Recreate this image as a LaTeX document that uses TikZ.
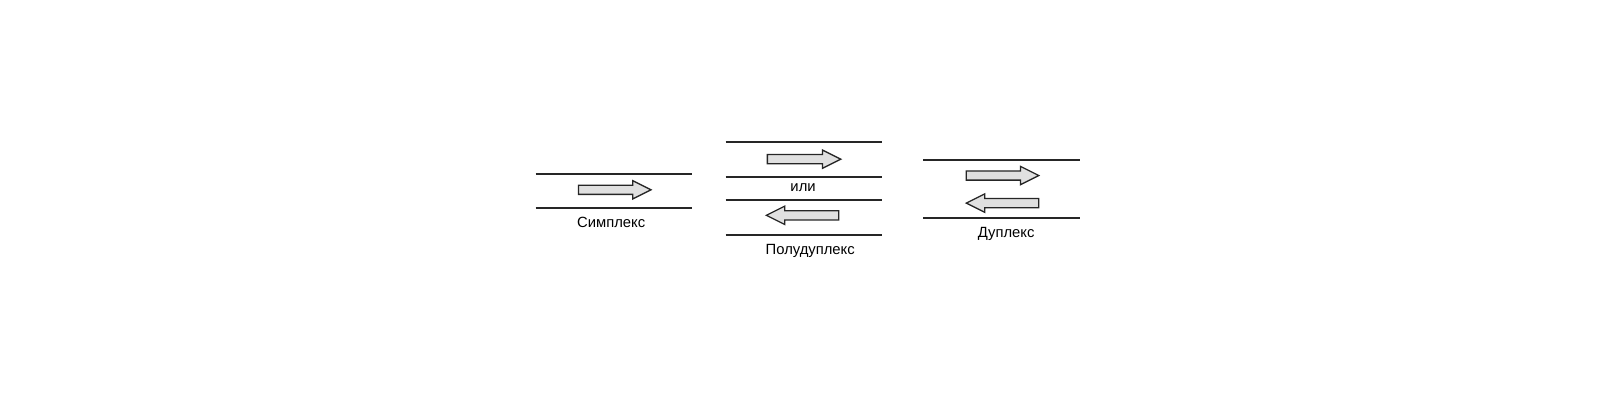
\documentclass[tikz,border=0pt]{standalone}
\usepackage{fontspec}
\setmainfont{Liberation Sans}
\newcommand\rarr[4]{% name, tail x, tip x, y
 \draw[arr] (#2,#4-4.5) -- (#3-18,#4-4.5) -- (#3-18,#4-9) -- (#3,#4) -- (#3-18,#4+9) -- (#3-18,#4+4.5) -- (#2,#4+4.5) -- cycle;
 \coordinate (#1) at (#2,#4);}
\newcommand\larr[4]{% name, tail x, tip x, y
 \draw[arr] (#2,#4-4.5) -- (#3+18,#4-4.5) -- (#3+18,#4-9) -- (#3,#4) -- (#3+18,#4+9) -- (#3+18,#4+4.5) -- (#2,#4+4.5) -- cycle;
 \coordinate (#1) at (#2,#4);}
\begin{document}
\begin{tikzpicture}[x=1pt,y=-1pt,
 wire/.style={line width=2pt,draw=black!85},
 arr/.style={fill=black!12,draw=black!85,line width=1.3pt,line join=miter},
 lbl/.style={font=\fontsize{14.5}{16}\selectfont,inner sep=0pt}]
\useasboundingbox (0,0) rectangle (1600,400);
\begin{scope}[scale=1.0204]
% Simplex
\draw[wire] (525,171) -- (678,171);
\draw[wire] (525,204) -- (678,204);
\rarr{a1}{567}{638}{186}
\node[lbl,scale=1.0204] (s) at (599,218) {Симплекс};
% Half duplex
\draw[wire] (711,139) -- (864,139);
\draw[wire] (711,173) -- (864,173);
\draw[wire] (711,196) -- (864,196);
\draw[wire] (711,230) -- (864,230);
\rarr{a2}{752}{824}{156}
\node[lbl,scale=1.0204] (ili) at (787,184) {или};
\larr{a3}{822}{751}{211}
\node[lbl,scale=1.0204] (h) at (794,246) {Полудуплекс};
% Duplex
\draw[wire] (905,157) -- (1058,157);
\draw[wire] (905,214) -- (1058,214);
\rarr{a4}{947}{1018}{172}
\larr{a5}{1018}{947}{199}
\node[lbl,scale=1.0204] (d) at (986,229) {Дуплекс};
\end{scope}
\end{tikzpicture}
\end{document}
